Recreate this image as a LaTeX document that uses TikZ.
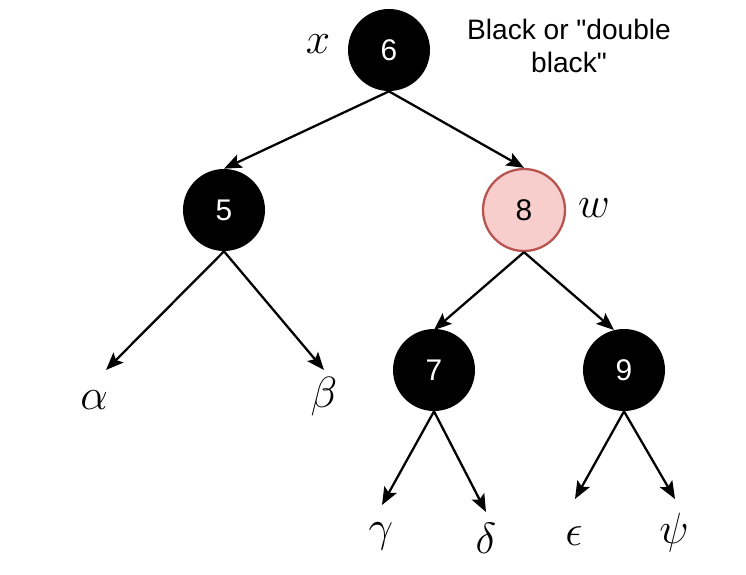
\documentclass[tikz,border=0pt]{standalone}
\usepackage{fontspec}
\setmainfont{Liberation Sans}[Ligatures=TeXOff]
\usetikzlibrary{arrows.meta}
\definecolor{pinkfill}{HTML}{F8CECC}
\definecolor{pinkline}{HTML}{B85450}
\tikzset{
  rbnode/.style={circle,fill=black,text=white,minimum size=1.64cm,inner sep=0pt,font=\fontsize{17}{20}\selectfont},
  rednode/.style={rbnode,fill=pinkfill,draw=pinkline,line width=1.3pt,text=black},
  edge/.style={line width=1.3pt,-{Stealth[length=10pt,width=8pt,inset=2pt]}},
  leaf/.style={font=\fontsize{31}{34}\selectfont}
}
\begin{document}
\begin{tikzpicture}[x=0.02cm,y=-0.02cm]
      \useasboundingbox (0,0) rectangle (746,574);
      % the tree nodes
      \node[rbnode] (n6) at (389,50) {6};
      \node[rbnode] (n5) at (224,210) {5};
      \node[rednode] (n8) at (524,210) {8};
      \node[rbnode] (n7) at (434,370) {7};
      \node[rbnode] (n9) at (624,370) {9};
      %% labels next to nodes
      \node[font=\fontsize{23}{26}\selectfont] (lx) at (318,44) {$x$};
      \node[font=\fontsize{27}{30}\selectfont] (lw) at (594,208) {$w$};
      \node[align=center,font=\fontsize{16}{18.5}\selectfont] (note) at (569,46) {Black or "double\\black"};
      % subtrees
      \node[leaf] (ta) at (94,400) {$\alpha$};
      \node[leaf] (tb) at (324,397) {$\beta$};
      \node[leaf] (tg) at (381,536) {$\gamma$};
      \node[leaf] (td) at (486,538) {$\delta$};
      \node[leaf] (te) at (574,536) {$\epsilon$};
      \node[leaf] (tp) at (674,533) {$\psi$};
      \coordinate (ea) at (106,370);
      \coordinate (eb) at (324,370);
      \coordinate (eg) at (382,505);
      \coordinate (ed) at (486,512);
      \coordinate (ee) at (575,499);
      \coordinate (ep) at (675,499);
      \coordinate (e7) at (434,330);
      \coordinate (e9) at (614,330);
      % edges
      \draw[edge] (n6.south) -- (n5.north);
      \draw[edge] (n6.south) -- (n8.north);
      \draw[edge] (n5.south) -- (ea);
      \draw[edge] (n5.south) -- (eb);
      \draw[edge] (n8.south) -- (e7);
      \draw[edge] (n8.south) -- (e9);
      \draw[edge] (n7.south) -- (eg);
      \draw[edge] (n7.south) -- (ed);
      \draw[edge] (n9.south) -- (ee);
      \draw[edge] (n9.south) -- (ep);
    \end{tikzpicture}
\end{document}
